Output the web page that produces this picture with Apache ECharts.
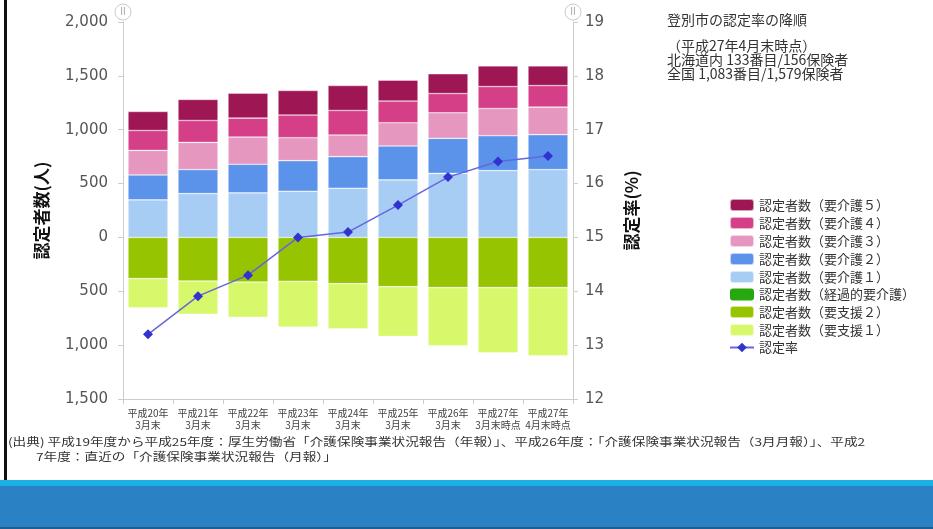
<!DOCTYPE html>
<html>
<head>
<meta charset="utf-8">
<script src="https://cdn.jsdelivr.net/npm/echarts@6/dist/echarts.min.js"></script>
<style>
  html, body { margin: 0; padding: 0; background: #fff; }
  #main { width: 933px; height: 529px; }
</style>
</head>
<body>
<div id="main"></div>
<script>
// categories
var categories = [
  "平成20年\n3月末", "平成21年\n3月末", "平成22年\n3月末", "平成23年\n3月末",
  "平成24年\n3月末", "平成25年\n3月末", "平成26年\n3月末",
  "平成27年\n3月末時点", "平成27年\n4月末時点"
];

// 認定者数 (people)
var care1 = [349, 407, 414, 429, 457, 534, 595, 620, 630];
var care2 = [231, 223, 265, 284, 293, 315, 325, 324, 324];
var care3 = [228, 252, 253, 213, 201, 216, 237, 253, 256];
var care4 = [185, 204, 176, 210, 228, 201, 179, 204, 200];
var care5 = [176, 195, 232, 228, 231, 194, 183, 192, 183];
var transitional = [0, 0, 0, 0, 0, 0, 0, 0, 0];
var support2 = [382, 404, 414, 407, 429, 457, 466, 466, 466];
var support1 = [272, 309, 327, 426, 420, 462, 540, 605, 633];

// 認定率 (%)
var rate = [13.2, 13.91, 14.3, 15.0, 15.1, 15.6, 16.12, 16.41, 16.51];

var fontJP = '"Noto Sans CJK JP", "Noto Sans", sans-serif';

function neg(arr) {
  return arr.map(function (v) { return -v; });
}

function barSeries(name, data, color) {
  return {
    name: name,
    type: "bar",
    stack: "total",
    barCategoryGap: "20%",
    data: data,
    itemStyle: {
      color: color,
      borderColor: "rgba(255,255,255,0.6)",
      borderWidth: 0.6
    }
  };
}

var myChart = echarts.init(document.getElementById("main"));

myChart.setOption({
  animation: false,
  backgroundColor: "#fff",
  textStyle: { fontFamily: fontJP },
  grid: { left: 123, right: 360, top: 22, bottom: 130 },
  legend: {
    orient: "vertical",
    left: 724,
    top: 193,
    itemWidth: 24,
    itemHeight: 12,
    itemGap: 4,
    textStyle: { fontSize: 13, lineHeight: 12, color: "#333", fontFamily: fontJP },
    data: [
      "認定者数（要介護５）", "認定者数（要介護４）", "認定者数（要介護３）",
      "認定者数（要介護２）", "認定者数（要介護１）", "認定者数（経過的要介護）",
      "認定者数（要支援２）", "認定者数（要支援１）", "認定率"
    ]
  },
  xAxis: {
    type: "category",
    data: categories,
    axisLine: { onZero: false, lineStyle: { color: "#ccc" } },
    axisTick: { show: true, length: 5, lineStyle: { color: "#ccc" } },
    axisLabel: {
      interval: 0,
      fontSize: 10,
      lineHeight: 12,
      color: "#444",
      margin: 8,
      fontFamily: fontJP
    }
  },
  yAxis: [
    {
      type: "value",
      min: -1500,
      max: 2000,
      interval: 500,
      name: "認定者数(人)",
      nameLocation: "middle",
      nameRotate: 90,
      nameGap: 73,
      nameTextStyle: { fontSize: 17, fontWeight: "bold", color: "#111", fontFamily: fontJP },
      axisLine: { show: true, lineStyle: { color: "#ccc" } },
      axisTick: { show: true, length: 5, lineStyle: { color: "#ccc" } },
      splitLine: { show: false },
      axisLabel: {
        fontSize: 15,
        color: "#555",
        margin: 15,
        fontFamily: "Verdana, DejaVu Sans, sans-serif",
        formatter: function (v) { return Math.abs(v).toLocaleString("en-US"); }
      }
    },
    {
      type: "value",
      min: 12,
      max: 19,
      interval: 1,
      position: "right",
      name: "認定率(%)",
      nameLocation: "middle",
      nameRotate: 90,
      nameGap: 50,
      nameTextStyle: { fontSize: 17, fontWeight: "bold", color: "#111", fontFamily: fontJP },
      axisLine: { show: true, lineStyle: { color: "#ccc" } },
      axisTick: { show: true, length: 5, lineStyle: { color: "#ccc" } },
      splitLine: { show: false },
      axisLabel: {
        fontSize: 15,
        color: "#555",
        margin: 12,
        fontFamily: "Verdana, DejaVu Sans, sans-serif"
      }
    }
  ],
  series: [
    barSeries("認定者数（要介護１）", care1, "#a8cdf5"),
    barSeries("認定者数（要介護２）", care2, "#5b93ea"),
    barSeries("認定者数（要介護３）", care3, "#e697bf"),
    barSeries("認定者数（要介護４）", care4, "#d43f88"),
    barSeries("認定者数（要介護５）", care5, "#9e1654"),
    {
      name: "認定者数（経過的要介護）",
      type: "bar",
      stack: "total",
      data: neg(transitional),
      itemStyle: { color: "#27a80f" }
    },
    barSeries("認定者数（要支援２）", neg(support2), "#96c400"),
    barSeries("認定者数（要支援１）", neg(support1), "#d7f86a"),
    {
      name: "認定率",
      type: "line",
      yAxisIndex: 1,
      data: rate,
      symbol: "diamond",
      symbolSize: 10,
      itemStyle: { color: "#3232d2" },
      lineStyle: { color: "#6565de", width: 1.5 },
      z: 5
    }
  ],
  graphic: [
    // frame of the slide
    { type: "rect", shape: { x: 4, y: 0, width: 3, height: 529 }, style: { fill: "#111" } },
    { type: "rect", shape: { x: 0, y: 480, width: 933, height: 49 }, style: { fill: "#2a82c5" } },
    { type: "rect", shape: { x: 0, y: 480, width: 933, height: 6 }, style: { fill: "#1cb0e6" } },
    { type: "rect", shape: { x: 0, y: 527, width: 933, height: 2 }, style: { fill: "#1d5f93" } },
    // axis handles
    { type: "circle", shape: { cx: 123, cy: 12, r: 8 }, style: { fill: "#fff", stroke: "#ccc", lineWidth: 1 } },
    { type: "text", x: 123, y: 12, style: { text: "II", fill: "#aaa", font: "10px sans-serif", align: "center", verticalAlign: "middle" } },
    { type: "circle", shape: { cx: 573, cy: 12, r: 8 }, style: { fill: "#fff", stroke: "#ccc", lineWidth: 1 } },
    { type: "text", x: 573, y: 12, style: { text: "II", fill: "#aaa", font: "10px sans-serif", align: "center", verticalAlign: "middle" } },
    // ranking note
    {
      type: "text", left: 667, top: 13,
      style: { text: "登別市の認定率の降順", fill: "#333", font: '14px "Noto Sans CJK JP"' }
    },
    {
      type: "text", left: 667, top: 39,
      style: {
        text: "（平成27年4月末時点）\n北海道内 133番目/156保険者\n全国 1,083番目/1,579保険者",
        fill: "#333", font: '14px "Noto Sans CJK JP"', lineHeight: 14
      }
    },
    // source
    {
      type: "text", x: 8, y: 436, scaleX: 1.24,
      style: {
        text: "(出典) 平成19年度から平成25年度：厚生労働省「介護保険事業状況報告（年報）」、平成26年度：「介護保険事業状況報告（3月月報）」、平成2",
        fill: "#333", font: '11px "Noto Sans CJK JP"'
      }
    },
    {
      type: "text", x: 36, y: 451, scaleX: 1.24,
      style: {
        text: "7年度：直近の「介護保険事業状況報告（月報）」",
        fill: "#333", font: '11px "Noto Sans CJK JP"'
      }
    }
  ]
});
</script>
</body>
</html>
